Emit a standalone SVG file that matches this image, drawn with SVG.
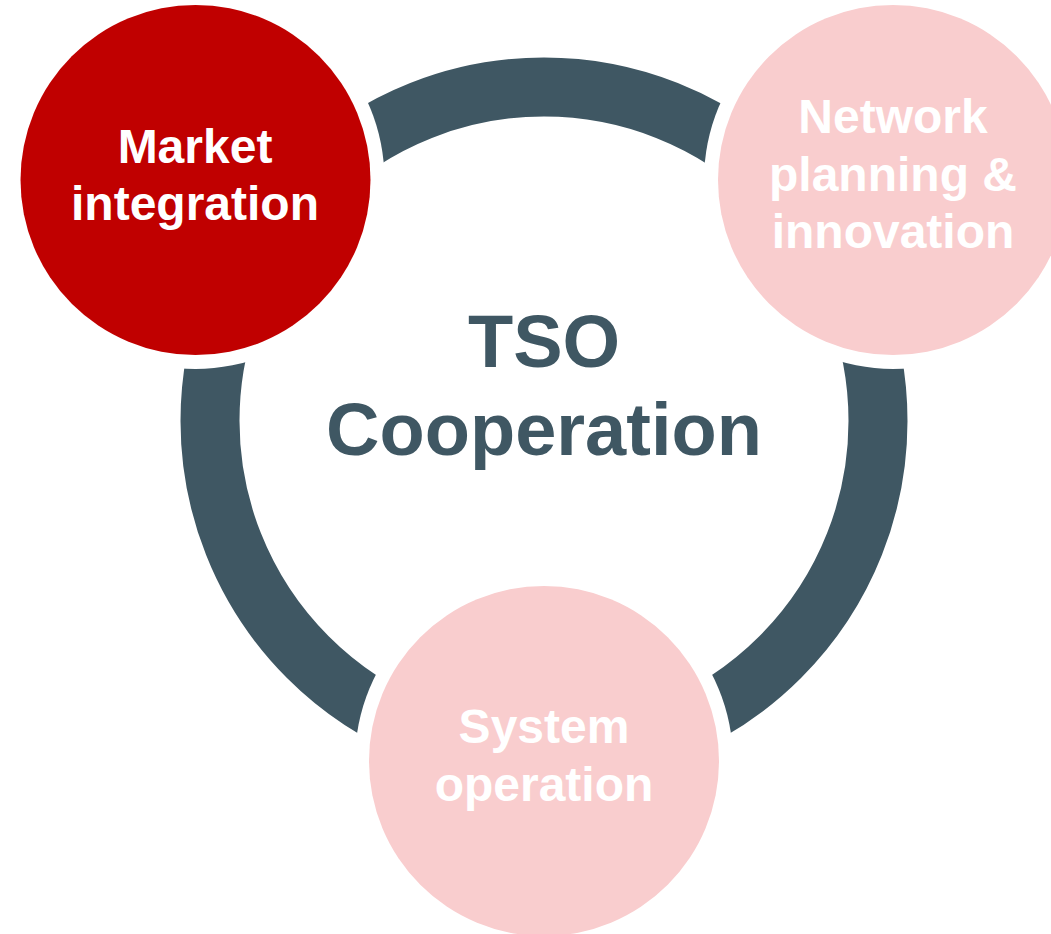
<svg xmlns="http://www.w3.org/2000/svg" width="1051" height="934" viewBox="0 0 1051 934">
<style>
.ring{fill:none;stroke:#3f5763;stroke-width:59}
.gap{fill:#ffffff}
.lbl{font-family:"Liberation Sans",Arial,sans-serif;font-weight:bold;font-size:48px;fill:#ffffff;text-anchor:middle}
.title{font-family:"Liberation Sans",Arial,sans-serif;font-weight:bold;font-size:74px;fill:#3f5763;text-anchor:middle}
</style>
<rect width="1051" height="934" fill="#ffffff"/>
<g id="connectors">
<circle class="ring" cx="544" cy="421" r="334"/>
</g>
<g id="center">
<text class="title" x="544" y="367">TSO</text>
<text class="title" x="544" y="455">Cooperation</text>
</g>
<g id="market-integration">
<circle class="gap" cx="195.5" cy="180" r="189"/>
<circle cx="195.5" cy="180" r="175" fill="#c00000"/>
<text class="lbl" x="195" y="163">Market</text>
<text class="lbl" x="195" y="220">integration</text>
</g>
<g id="network-planning">
<circle class="gap" cx="893" cy="180" r="189"/>
<circle cx="893" cy="180" r="175" fill="#f9cdce"/>
<text class="lbl" x="893" y="133">Network</text>
<text class="lbl" x="893" y="191">planning &amp;</text>
<text class="lbl" x="893" y="248">innovation</text>
</g>
<g id="system-operation">
<circle class="gap" cx="544" cy="761" r="189"/>
<circle cx="544" cy="761" r="175" fill="#f9cdce"/>
<text class="lbl" x="544" y="743">System</text>
<text class="lbl" x="544" y="801">operation</text>
</g>
</svg>
